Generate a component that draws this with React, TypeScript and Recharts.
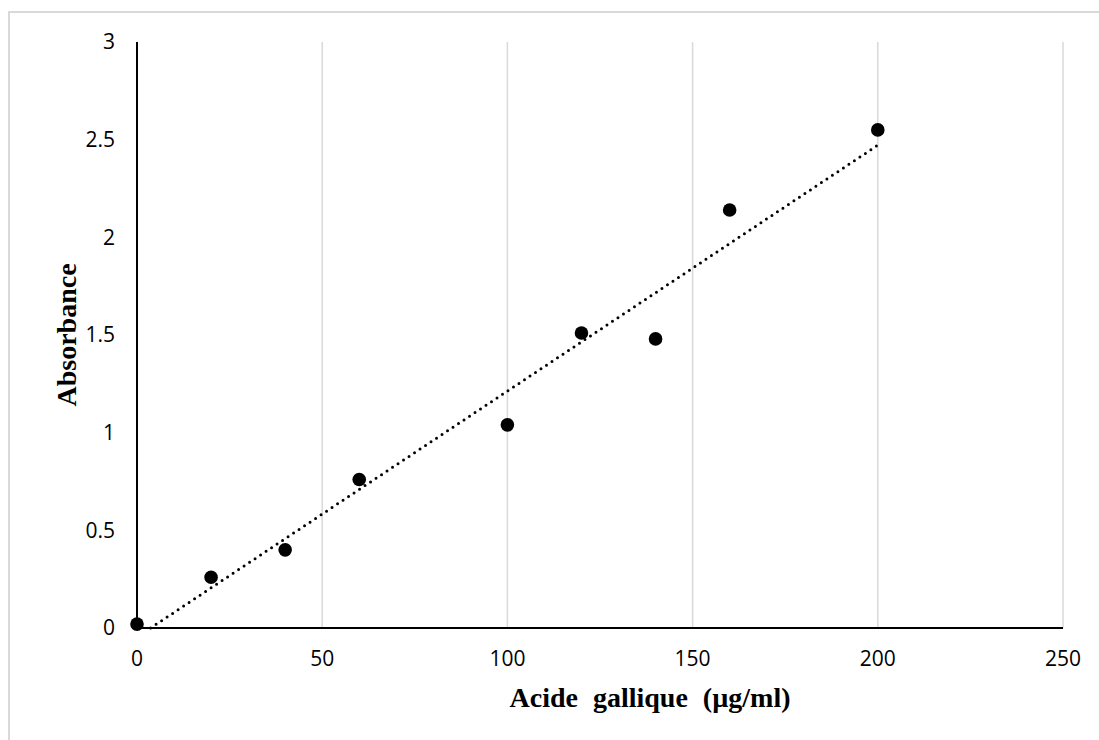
import {
  ComposedChart, Scatter, XAxis, YAxis, CartesianGrid, Label,
} from 'recharts';

// concentration (µg/ml) and measured absorbance
const concentrations = [0, 20, 40, 60, 100, 120, 140, 160, 200];
const absorbances = [0.02, 0.26, 0.4, 0.76, 1.04, 1.51, 1.48, 2.14, 2.55];
const xTicks = [0, 50, 100, 150, 200, 250];
const yTicks = [0, 0.5, 1, 1.5, 2, 2.5, 3];

const points = concentrations.map((x, i) => ({ x, y: absorbances[i] }));

// least-squares linear trendline, clipped to y >= 0
const n = points.length;
const mx = concentrations.reduce((a, b) => a + b, 0) / n;
const my = absorbances.reduce((a, b) => a + b, 0) / n;
const sxy = points.reduce((a, p) => a + (p.x - mx) * (p.y - my), 0);
const sxx = points.reduce((a, p) => a + (p.x - mx) ** 2, 0);
const slope = sxy / sxx;
const intercept = my - slope * mx;
const xStart = Math.max(0, -intercept / slope);
const xEnd = concentrations[concentrations.length - 1];
const trend = [
  { x: xStart, y: slope * xStart + intercept },
  { x: xEnd, y: slope * xEnd + intercept },
];

const tickStyle = { fontSize: 21, fill: '#000', fontFamily: '"Open Sans", sans-serif' };
const titleFont = '"Liberation Serif", "Times New Roman", serif';

export default function App() {
  return (
    <div style={{ position: 'relative', width: 1099, height: 740, overflow: 'hidden', background: '#fff' }}>
      <style>{'body { margin: 0; }'}</style>
      <div
        style={{
          position: 'absolute', left: 8, top: 11, right: 0, bottom: 0,
          borderTop: '2px solid #d9d9d9', borderLeft: '2px solid #d9d9d9',
        }}
      />
      <div style={{ position: 'absolute', left: 8, top: 8 }}>
        <ComposedChart width={1083} height={724} margin={{ top: 34, right: 28, bottom: 0, left: 0 }}>
          <CartesianGrid horizontal={false} stroke="#d9d9d9" strokeWidth={1.5} />
          <XAxis
            type="number" dataKey="x" domain={[0, 250]} ticks={xTicks}
            tickSize={0} tickMargin={23} height={104}
            axisLine={{ stroke: '#000', strokeWidth: 2 }} tick={tickStyle}
            label={
              <Label
                content={({ viewBox }: any) => (
                  <text
                    x={viewBox.x + viewBox.width / 2 + 50} y={viewBox.y + 69}
                    textAnchor="middle" dominantBaseline="central"
                    style={{ fontFamily: titleFont, fontWeight: 'bold', fontSize: 28, wordSpacing: 8 }}
                  >
                    Acide gallique (µg/ml)
                  </text>
                )}
              />
            }
          />
          <YAxis
            type="number" dataKey="y" domain={[0, 3]} ticks={yTicks}
            tickSize={0} tickMargin={22} width={129}
            axisLine={{ stroke: '#000', strokeWidth: 2 }} tick={tickStyle}
            label={
              <Label
                content={({ viewBox }: any) => (
                  <text
                    x={58} y={viewBox.y + viewBox.height / 2}
                    textAnchor="middle" dominantBaseline="central"
                    transform={`rotate(-90, 58, ${viewBox.y + viewBox.height / 2})`}
                    style={{ fontFamily: titleFont, fontWeight: 'bold', fontSize: 28 }}
                  >
                    Absorbance
                  </text>
                )}
              />
            }
          />
          <Scatter
            data={trend} isAnimationActive={false}
            line={{ stroke: '#000', strokeWidth: 3, strokeDasharray: '0 6.6', strokeLinecap: 'round' }}
            shape={() => <g />}
          />
          <Scatter
            data={points} isAnimationActive={false}
            shape={(p: any) => <circle cx={p.cx} cy={p.cy} r={6.8} fill="#000" />}
          />
        </ComposedChart>
      </div>
    </div>
  );
}
